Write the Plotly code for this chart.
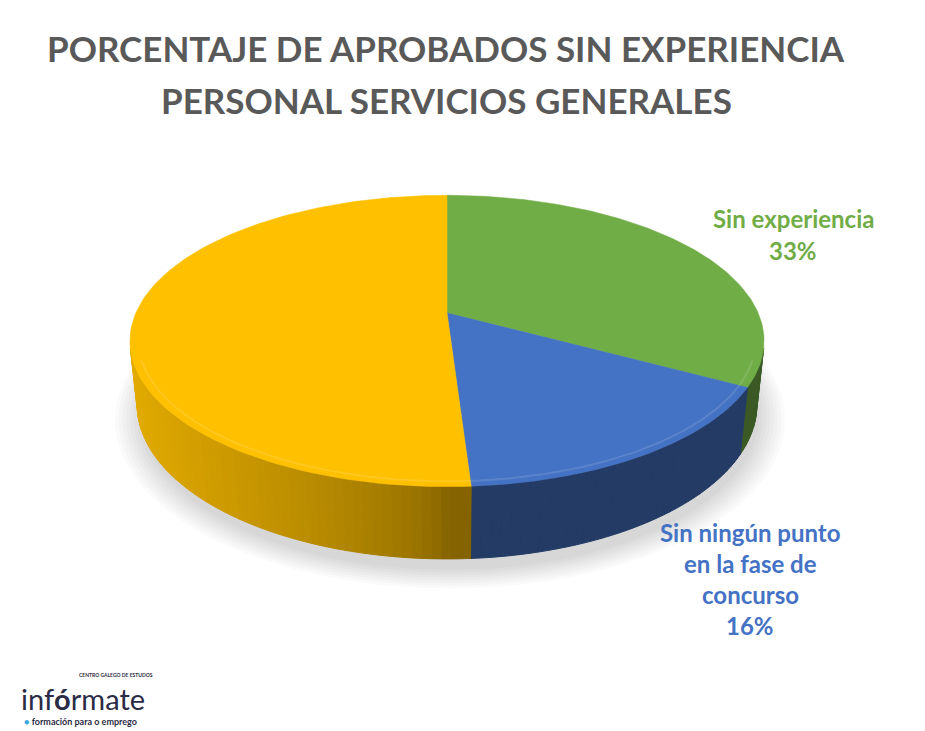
import numpy as np
import plotly.graph_objects as go

# ===============================
#  Datos del gráfico
# ===============================

TITULO_1 = "PORCENTAJE DE APROBADOS SIN EXPERIENCIA"
TITULO_2 = "PERSONAL SERVICIOS GENERALES"

categorias = ["Sin experiencia", "Sin ningún punto en la fase de concurso", "Resto"]
porcentajes = [33, 16, 51]
lineas_etiqueta = [["Sin experiencia"], ["Sin ningún punto", "en la fase de", "concurso"], []]
colores = ["#70AD47", "#4472C4", "#FFC000"]

# ===============================
#  Geometría de la tarta 3D
# ===============================

ANCHO, ALTO = 925, 731
OFF = 8                    # margen del body de la página
CX, CY = 447, 313          # centro de la cara superior en pantalla
FOCAL = 1447
DIST = 4.65                # distancia de la cámara (radio = 1)
INCLINACION = 26.8         # grados
GROSOR = 0.23


def proyectar(phi, h, r=1.0):
    t = np.radians(phi)
    b = np.radians(INCLINACION)
    x3, z3 = r * np.sin(t), r * np.cos(t)
    cy = h * np.cos(b) + z3 * np.sin(b)
    prof = -h * np.sin(b) + z3 * np.cos(b) + DIST
    return CX + FOCAL * x3 / prof, CY - FOCAL * cy / prof


def rgb(hex_color):
    h = hex_color.lstrip("#")
    return [int(h[i:i + 2], 16) for i in (0, 2, 4)]


def sombrear(hex_color, f):
    r, g, b = rgb(hex_color)
    return f"rgb({int(r * f)},{int(g * f)},{int(b * f)})"


def aclarar(hex_color, f):
    r, g, b = rgb(hex_color)
    return f"rgb({int(r + (255 - r) * f)},{int(g + (255 - g) * f)},{int(b + (255 - b) * f)})"


def factor_lateral(phi):
    s = -np.sin(np.radians(phi))
    return 0.52 + 0.38 * max(0.0, s) ** 0.6


# ángulos de cada porción (sentido horario desde las 12)
limites = np.concatenate([[0], np.cumsum(porcentajes)]) / sum(porcentajes) * 360

fig = go.Figure()

# sombra suave bajo la tarta
for esc in np.linspace(1.08, 1.0, 8):
    ph = np.linspace(0, 360, 181)
    xs, ys = proyectar(ph, -GROSOR - 0.02, esc)
    fig.add_trace(go.Scatter(x=xs + 3, y=ys + 5, mode="lines", fill="toself",
                             fillcolor="rgba(0,0,0,0.018)", line=dict(width=0),
                             hoverinfo="skip", showlegend=False))

# caras laterales visibles
phi_min = np.degrees(np.arccos(-1 / (DIST * np.cos(np.radians(INCLINACION)))))
phi_max = 360 - phi_min
for i, color in enumerate(colores):
    a0, a1 = max(limites[i], phi_min), min(limites[i + 1], phi_max)
    if a1 <= a0:
        continue
    n = max(2, int((a1 - a0) / 1.5))
    bordes = np.linspace(a0, a1, n + 1)
    for pa, pb in zip(bordes[:-1], bordes[1:]):
        c = sombrear(color, factor_lateral((pa + pb) / 2))
        xt, yt = proyectar(np.array([pa, pb]), 0.0)
        xb, yb = proyectar(np.array([pb, pa]), -GROSOR)
        fig.add_trace(go.Scatter(
            x=list(xt) + list(xb) + [xt[0]], y=list(yt) + list(yb) + [yt[0]],
            mode="lines", fill="toself", fillcolor=c, line=dict(color=c, width=1),
            hoverinfo="skip", showlegend=False))

# caras superiores
for i, (cat, color) in enumerate(zip(categorias, colores)):
    ph = np.linspace(limites[i], limites[i + 1], 120)
    xs, ys = proyectar(ph, 0.0)
    fig.add_trace(go.Scatter(
        x=[CX] + list(xs) + [CX], y=[CY] + list(ys) + [CY],
        mode="lines", fill="toself", fillcolor=color, line=dict(color=color, width=0.5),
        name=cat, hovertemplate=f"{cat}: {porcentajes[i]}%<extra></extra>",
        showlegend=False))

# bisel claro en el borde delantero
for i, color in enumerate(colores):
    a0, a1 = max(limites[i], phi_min + 5), min(limites[i + 1], phi_max - 5)
    if a1 <= a0:
        continue
    ph = np.linspace(a0, a1, 80)
    xs, ys = proyectar(ph, 0.0, 0.975)
    fig.add_trace(go.Scatter(x=xs, y=ys, mode="lines",
                             line=dict(color=aclarar(color, 0.18), width=2),
                             opacity=0.7, hoverinfo="skip", showlegend=False))

# ===============================
#  Textos
# ===============================

FUENTE = "Lato"
anotaciones = [
    dict(x=446, y=48, text=f"<b>{TITULO_1}</b>", font=dict(size=35, color="#595959", family=FUENTE)),
    dict(x=446, y=100, text=f"<b>{TITULO_2}</b>", font=dict(size=35, color="#595959", family=FUENTE)),
]

pos_etiquetas = [(793, 218, 32), (750, 532, 31), None]
for i, lineas in enumerate(lineas_etiqueta):
    if not lineas:
        continue
    x0, y0, paso = pos_etiquetas[i]
    for j, t in enumerate(lineas + [f"{porcentajes[i]}%"]):
        anotaciones.append(dict(x=x0, y=y0 + j * paso, text=f"<b>{t}</b>",
                                font=dict(size=24, color=colores[i], family=FUENTE)))

# logotipo
anotaciones += [
    dict(x=155, y=675, text="<b>CENTRO GALEGO DE ESTUDOS</b>", xanchor="right",
         font=dict(size=5, color="#2B2B45", family=FUENTE)),
    dict(x=19, y=698, text="inf<b>ó</b>rmate", xanchor="left",
         font=dict(size=29, color="#2B2B45", family=FUENTE)),
    dict(x=22, y=721, text="<span style='color:#3AA8E0'>●</span> <b>formación para o emprego</b>",
         xanchor="left", font=dict(size=9, color="#2B2B45", family=FUENTE)),
]

for a in anotaciones:
    a.setdefault("xanchor", "center")
    a.update(xref="x", yref="y", showarrow=False, yanchor="middle")

fig.update_layout(
    width=ANCHO, height=ALTO,
    margin=dict(l=0, r=0, t=0, b=0),
    paper_bgcolor="white", plot_bgcolor="white",
    xaxis=dict(range=[OFF, ANCHO + OFF], visible=False, fixedrange=True),
    yaxis=dict(range=[ALTO + OFF, OFF], visible=False, fixedrange=True),
    annotations=anotaciones,
    showlegend=False,
)

fig.write_html("out.html")
